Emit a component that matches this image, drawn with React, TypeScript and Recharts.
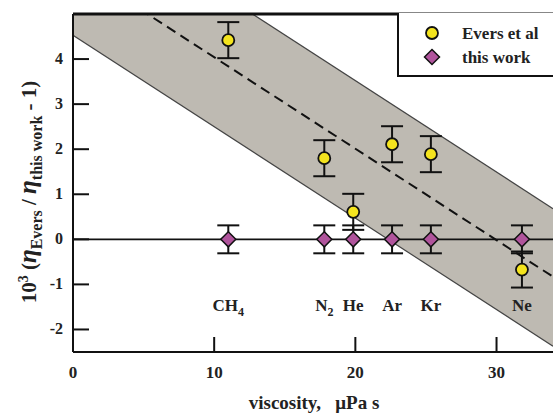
import React from 'react'
import {
    ComposedChart,
    Area,
    Line,
    Scatter,
    ErrorBar,
    XAxis,
    YAxis,
    ReferenceLine
} from 'recharts'

const gasNames = ['CH', 'N', 'He', 'Ar', 'Kr', 'Ne']
const gasSubs = ['4', '2', '', '', '', '']
const gasViscosity = [11.0, 17.8, 19.85, 22.6, 25.35, 31.8]
const eversDev = [4.42, 1.8, 0.61, 2.11, 1.89, -0.67]
const eversErr = [0.4, 0.4, 0.4, 0.4, 0.4, 0.4]
const thisWorkDev = [0, 0, 0, 0, 0, 0]
const thisWorkErr = [0.31, 0.31, 0.31, 0.31, 0.31, 0.31]
const labelY = -1.45
const seriesNames = ['Evers et al', 'this work']

const fitX = [0, 34]
const fitCenter = [6.07, -0.83]
const fitUpper = [7.58, 0.68]
const fitLower = [4.53, -2.37]

const xTicks = [0, 10, 20, 30]
const yTicks = [-2, -1, 0, 1, 2, 3, 4]

const FONT = '"Liberation Serif", "Times New Roman", serif'
const YELLOW = '#f4e41e'
const PURPLE = '#b0549c'

const bandData = fitX.map((x, i) => ({
    x,
    band: [fitLower[i], fitUpper[i]],
    upper: fitUpper[i],
    lower: fitLower[i],
    fit: fitCenter[i]
}))
const eversData = gasViscosity.map((x, i) => ({ x, y: eversDev[i], err: eversErr[i] }))
const thisWorkData = gasViscosity.map((x, i) => ({ x, y: thisWorkDev[i], err: thisWorkErr[i] }))
const labelData = gasViscosity.map((x, i) => ({ x, y: labelY, name: gasNames[i], sub: gasSubs[i] }))

const Circle = ({ cx, cy }: any) => (
    <circle cx={cx} cy={cy} r={6} fill={YELLOW} stroke="#111" strokeWidth={1.8} />
)

const Diamond = ({ cx, cy }: any) => (
    <polygon
        points={`${cx},${cy - 7.5} ${cx + 7.5},${cy} ${cx},${cy + 7.5} ${cx - 7.5},${cy}`}
        fill={PURPLE}
        stroke="#111"
        strokeWidth={1.5}
    />
)

const GasLabel = ({ cx, cy, payload }: any) => (
    <text x={cx} y={cy} dy={6} textAnchor="middle" fontFamily={FONT} fontWeight="bold" fontSize={17} fill="#222">
        {payload.name}
        {payload.sub && <tspan dy={5} fontSize={12}>{payload.sub}</tspan>}
    </text>
)

const YTick = ({ x, y, payload }: any) => (
    <g>
        <line x1={x} y1={y} x2={x + 16} y2={y} stroke="#111" strokeWidth={2} />
        <text x={x - 10} y={y} dy={5} textAnchor="end" fontFamily={FONT} fontWeight="bold" fontSize={16} fill="#222">
            {payload.value}
        </text>
    </g>
)

const XTick = ({ x, y, payload }: any) => (
    <g>
        {payload.value !== 0 && <line x1={x} y1={y} x2={x} y2={y - 15} stroke="#111" strokeWidth={2} />}
        <text x={x} y={y + 26} textAnchor="middle" fontFamily={FONT} fontWeight="bold" fontSize={17} fill="#222">
            {payload.value}
        </text>
    </g>
)

const YTitle = () => (
    <text
        x={36}
        y={192}
        transform="rotate(-90 36 192)"
        textAnchor="middle"
        fontFamily={FONT}
        fontWeight="bold"
        fontSize={21}
        fill="#222"
    >
        10<tspan dy={-8} fontSize={14}>3</tspan>
        <tspan dy={8}>{'\u00a0('}</tspan>
        <tspan fontStyle="italic" fontSize={25}>η</tspan>
        <tspan dy={6} fontSize={16}>Evers</tspan>
        <tspan dy={-6}>{'\u00a0/\u00a0'}</tspan>
        <tspan fontStyle="italic" fontSize={25}>η</tspan>
        <tspan dy={6} fontSize={16}>this work</tspan>
        <tspan dy={-6}>{'\u00a0- 1)'}</tspan>
    </text>
)

const XTitle = () => (
    <text x={314} y={409} textAnchor="middle" fontFamily={FONT} fontWeight="bold" fontSize={19} fill="#222">
        {'viscosity,\u00a0\u00a0\u00a0μPa s'}
    </text>
)

const LegendBox = () => (
    <svg width={160} height={66} style={{ position: 'absolute', left: 397, top: 13 }}>
        <rect x={1} y={-2} width={170} height={65} fill="#fff" stroke="#111" strokeWidth={2} />
        {seriesNames.map((name, i) => {
            const cy = 20 + i * 24
            return (
                <g key={name}>
                    {i === 0 ? <Circle cx={35} cy={cy} /> : <Diamond cx={35} cy={cy} />}
                    <text x={65} y={cy + 6} fontFamily={FONT} fontWeight="bold" fontSize={17} fill="#222">
                        {name}
                    </text>
                </g>
            )
        })}
    </svg>
)

export default function App() {
    return (
        <div style={{ position: 'absolute', left: 0, top: 0, width: 553, height: 415, background: '#fff' }}>
            <ComposedChart
                width={553}
                height={415}
                data={bandData}
                margin={{ top: 14, right: 0, bottom: 23, left: 13 }}
            >
                <XAxis
                    type="number"
                    dataKey="x"
                    domain={[0, 34]}
                    ticks={xTicks}
                    allowDataOverflow
                    height={40}
                    tickSize={0}
                    tickMargin={0}
                    tickLine={false}
                    axisLine={{ stroke: '#111', strokeWidth: 2 }}
                    tick={<XTick />}
                    label={<XTitle />}
                />
                <YAxis
                    type="number"
                    domain={[-2.5, 5]}
                    ticks={yTicks}
                    allowDataOverflow
                    width={60}
                    tickSize={0}
                    tickMargin={0}
                    tickLine={false}
                    axisLine={{ stroke: '#111', strokeWidth: 2 }}
                    tick={<YTick />}
                    label={<YTitle />}
                />
                <Area
                    dataKey="band"
                    type="linear"
                    fill="#bebab2"
                    fillOpacity={1}
                    stroke="none"
                    isAnimationActive={false}
                />
                <Line dataKey="upper" type="linear" stroke="#444" strokeWidth={1.2} dot={false} activeDot={false} isAnimationActive={false} />
                <Line dataKey="lower" type="linear" stroke="#444" strokeWidth={1.2} dot={false} activeDot={false} isAnimationActive={false} />
                <Line dataKey="fit" type="linear" stroke="#111" strokeWidth={2} strokeDasharray="10 6" dot={false} activeDot={false} isAnimationActive={false} />
                <ReferenceLine y={0} stroke="#111" strokeWidth={1.8} />
                <ReferenceLine y={5} stroke="#111" strokeWidth={3} />
                <Scatter name="labels" data={labelData} dataKey="y" shape={<GasLabel />} isAnimationActive={false} />
                <Scatter name={seriesNames[0]} data={eversData} dataKey="y" shape={<Circle />} fill={YELLOW} isAnimationActive={false}>
                    <ErrorBar dataKey="err" direction="y" width={11} stroke="#111" strokeWidth={2} />
                </Scatter>
                <Scatter name={seriesNames[1]} data={thisWorkData} dataKey="y" shape={<Diamond />} fill={PURPLE} isAnimationActive={false}>
                    <ErrorBar dataKey="err" direction="y" width={11} stroke="#111" strokeWidth={2} />
                </Scatter>
            </ComposedChart>
            <LegendBox />
        </div>
    )
}
